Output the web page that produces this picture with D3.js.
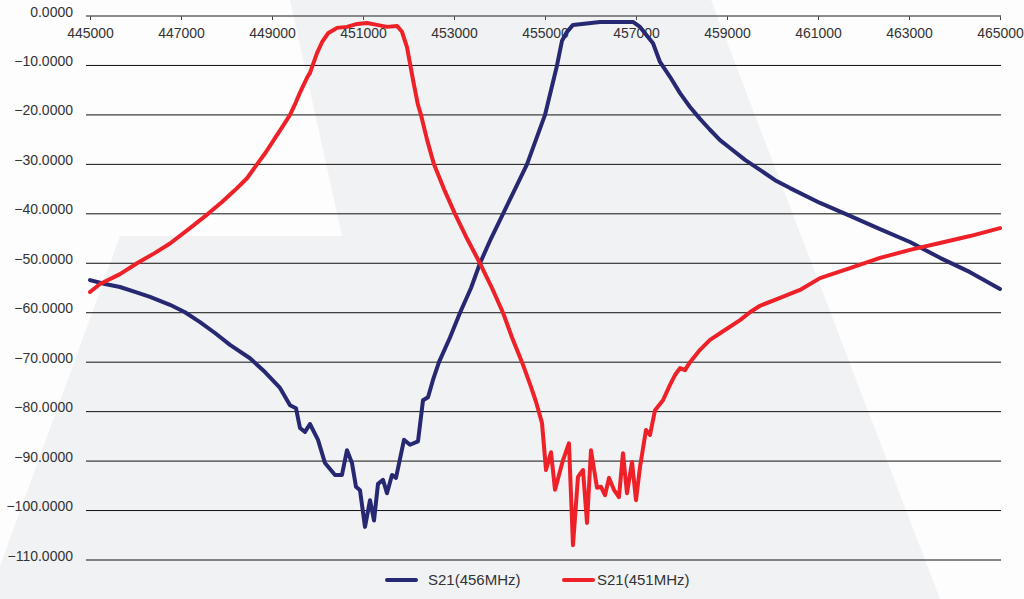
<!DOCTYPE html>
<html>
<head>
<meta charset="utf-8">
<script src="https://cdn.jsdelivr.net/npm/d3@7"></script>
<style>
  body { margin: 0; background: #fdfdfd; }
  svg { display: block; }
</style>
</head>
<body>
<div id="chart"></div>
<script>

// frequency (Hz) and S21 (dB)
var freq456 = [445000, 445330, 445659, 445989, 446319, 446758, 447088, 447418, 447747, 448077,
    448516, 448846, 449176, 449396, 449527, 449615, 449725, 449835, 450011, 450165,
    450385, 450538, 450648, 450758, 450846, 450934, 451044, 451154, 451242, 451330,
    451440, 451527, 451637, 451725, 451901, 452033, 452209, 452319, 452429, 452538,
    452670, 452912, 453132, 453374, 453571, 453813, 454077, 454341, 454604, 454802,
    455000, 455132, 455264, 455374, 455484, 455615, 456209, 456934, 457088, 457374,
    457527, 457747, 457967, 458187, 458407, 458626, 458846, 459066, 459396, 459725,
    460055, 460385, 461044, 461703, 462363, 463022, 463681, 464341, 465000];
var s21_456 = [-53.4, -54.2, -54.8, -55.8, -56.8, -58.4, -59.9, -61.9, -64.1, -66.5,
    -69.2, -72.0, -75.2, -78.7, -79.3, -83.3, -84.1, -82.5, -85.7, -90.4,
    -92.8, -92.8, -87.8, -90.4, -95.2, -95.9, -103.3, -97.9, -102.0, -94.6,
    -93.8, -96.5, -92.8, -93.4, -85.7, -86.7, -86.0, -77.7, -77.1, -73.6,
    -70.0, -65.0, -60.0, -55.0, -50.0, -45.0, -40.0, -35.0, -30.0, -25.0,
    -20.0, -15.0, -10.0, -5.0, -3.2, -1.8, -1.2, -1.2, -2.2, -5.5,
    -9.3, -12.3, -15.6, -18.4, -20.8, -23.0, -25.1, -26.7, -29.1, -31.1,
    -33.2, -34.8, -37.8, -40.4, -43.1, -45.7, -48.9, -51.8, -55.2];

var freq451 = [445000, 445220, 445659, 446033, 446429, 446758, 447198, 447593, 447901, 448187,
    448451, 448670, 448868, 449066, 449242, 449396, 449527, 449615, 449769, 449835,
    449989, 450099, 450231, 450429, 450648, 450868, 451088, 451308, 451527, 451747,
    451857, 451967, 452099, 452209, 452275, 452407, 452560, 452780, 453022, 453286,
    453571, 453835, 454077, 454275, 454495, 454692, 454802, 454934, 455022, 455132,
    455220, 455396, 455527, 455615, 455725, 455835, 455923, 456011, 456143, 456231,
    456319, 456407, 456516, 456626, 456714, 456802, 456912, 457000, 457088, 457220,
    457308, 457418, 457593, 457747, 457857, 457967, 458077, 458187, 458407, 458626,
    458956, 459286, 459505, 459725, 460165, 460604, 461044, 461703, 462363, 463022,
    463681, 464341, 465000];
var s21_451 = [-55.8, -54.2, -52.2, -50.0, -47.9, -46.0, -42.9, -40.0, -37.6, -35.2,
    -32.8, -30.0, -27.5, -24.7, -22.2, -20.0, -17.4, -15.5, -12.5, -11.5,
    -7.5, -5.3, -3.5, -2.4, -2.2, -1.6, -1.4, -1.8, -2.2, -2.0,
    -3.2, -6.3, -12.9, -18.0, -20.0, -25.0, -30.0, -35.0, -40.0, -45.0,
    -50.0, -55.0, -60.0, -65.0, -70.0, -75.0, -78.0, -82.3, -91.8, -88.2,
    -95.8, -89.8, -86.4, -107.0, -93.2, -91.8, -102.5, -87.8, -95.4, -95.2,
    -96.9, -93.4, -95.8, -97.3, -88.4, -96.5, -90.2, -97.9, -91.2, -83.7,
    -84.7, -79.7, -77.7, -74.6, -72.6, -71.2, -71.6, -70.0, -67.5, -65.5,
    -63.5, -61.5, -59.9, -58.6, -57.0, -55.4, -53.0, -51.0, -48.9, -47.3,
    -45.9, -44.5, -42.9];

var xTicks = [445000, 447000, 449000, 451000, 453000, 455000, 457000, 459000, 461000, 463000, 465000];
var yTicks = [0, -10, -20, -30, -40, -50, -60, -70, -80, -90, -100, -110];

var seriesNames = ["S21(456MHz)", "S21(451MHz)"];
var color = ["#262872", "#ee2028"];

var W = 1024, H = 599;

var svg = d3.select("#chart")
    .append("svg")
    .attr("width", W)
    .attr("height", H);

// pale "A" shape in the background
svg.append("rect")
    .attr("width", W).attr("height", H)
    .attr("fill", "#fdfdfd");
svg.append("path")
    .attr("d", "M290,0 L711,0 L940,599 L-12,599 L120,236 L342,236 Z")
    .attr("fill", "#f1f2f4");

var x = d3.scaleLinear()
    .domain([445000, 465000])
    .range([90, 1000]);

var y = d3.scaleLinear()
    .domain([0, -110])
    .range([16, 560]);

// gridlines
svg.append("g")
    .selectAll("line")
    .data(yTicks.slice(1))
    .enter()
    .append("line")
    .attr("x1", 86)
    .attr("x2", 1001)
    .attr("y1", function(d) { return y(d); })
    .attr("y2", function(d) { return y(d); })
    .attr("stroke", "#111")
    .attr("stroke-width", 1);

// x axis sits on the 0 line
var xAxis = d3.axisBottom(x)
    .tickValues(xTicks)
    .tickFormat(d3.format("d"))
    .tickSize(4)
    .tickSizeOuter(0)
    .tickPadding(8);

var gx = svg.append("g")
    .attr("transform", "translate(0," + y(0) + ")")
    .call(xAxis);
gx.select(".domain").remove();
gx.selectAll(".tick line").attr("stroke", "#444");
gx.append("line")
    .attr("x1", 86).attr("x2", 1001)
    .attr("stroke", "#666")
    .attr("stroke-width", 1.5);
gx.selectAll("text")
    .attr("fill", "#333")
    .style("font-size", "14px")
    .style("font-family", "'Liberation Sans', Arial, sans-serif");

// y axis labels
var yAxis = d3.axisLeft(y)
    .tickValues(yTicks)
    .tickFormat(d3.format(".4f"))
    .tickSize(0)
    .tickPadding(13);

var gy = svg.append("g")
    .attr("transform", "translate(86,0)")
    .call(yAxis);
gy.select(".domain").remove();
gy.selectAll("text")
    .attr("dy", "0em")
    .attr("fill", "#333")
    .style("font-size", "14px")
    .style("font-family", "'Liberation Sans', Arial, sans-serif");

// the two curves
var line = d3.line()
    .x(function(d) { return x(d[0]); })
    .y(function(d) { return y(d[1]); });

var series = [
    d3.zip(freq456, s21_456),
    d3.zip(freq451, s21_451)
];

svg.selectAll(".curve")
    .data(series)
    .enter()
    .append("path")
    .attr("class", "curve")
    .attr("fill", "none")
    .attr("stroke", function(d, i) { return color[i]; })
    .attr("stroke-width", 4)
    .attr("stroke-linejoin", "round")
    .attr("stroke-linecap", "round")
    .attr("d", line);

// legend
var legendX = [387, 564];
var legend = svg.append("g")
    .selectAll("g")
    .data(seriesNames)
    .enter()
    .append("g")
    .attr("transform", function(d, i) { return "translate(" + legendX[i] + ",580)"; });

legend.append("line")
    .attr("x1", 0).attr("x2", 29)
    .attr("stroke", function(d, i) { return color[i]; })
    .attr("stroke-width", 4)
    .attr("stroke-linecap", "round");

legend.append("text")
    .attr("x", function(d, i) { return i == 0 ? 41 : 33; })
    .attr("y", 5)
    .attr("fill", "#333")
    .style("font-size", "15px")
    .style("font-family", "'Liberation Sans', Arial, sans-serif")
    .text(function(d) { return d; });

</script>
</body>
</html>
